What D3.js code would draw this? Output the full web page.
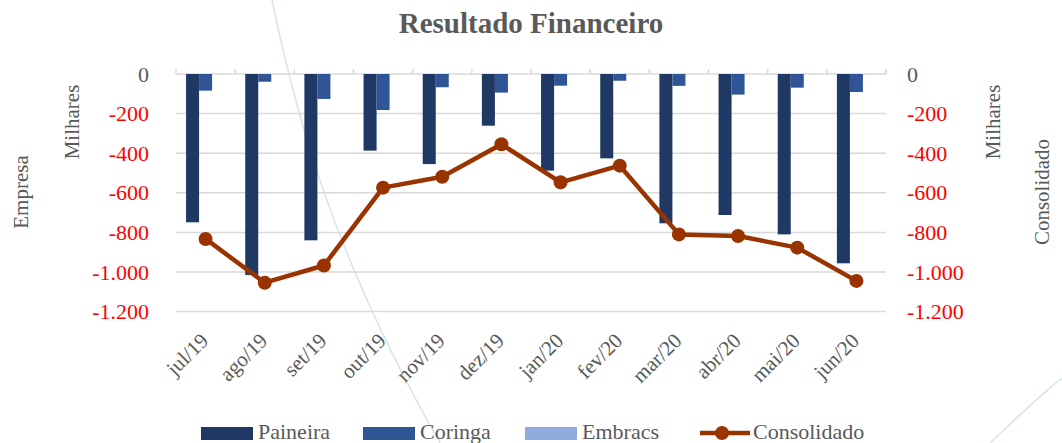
<!DOCTYPE html>
<html>
<head>
<meta charset="utf-8">
<script src="https://cdn.jsdelivr.net/npm/d3@7"></script>
<style>
  html, body { margin: 0; padding: 0; background: #fff; }
  svg { display: block; }
  svg text { font-family: "Liberation Serif", "DejaVu Serif", serif; }
</style>
</head>
<body>
<svg id="chart" width="1062" height="443"></svg>
<script>
  'use strict';

  // data (Milhares)
  var months = ['jul/19', 'ago/19', 'set/19', 'out/19', 'nov/19', 'dez/19',
                'jan/20', 'fev/20', 'mar/20', 'abr/20', 'mai/20', 'jun/20'];
  var paineira = [-749, -1015, -840, -387, -455, -261, -488, -426, -754, -712, -810, -956];
  var coringa = [-84, -39, -126, -182, -67, -94, -59, -34, -60, -104, -69, -91];
  var embracs = [0, 0, 0, 0, 0, 0, 0, 0, 0, 0, 0, 0];
  var consolidado = [-833, -1054, -967, -574, -519, -355, -547, -463, -810, -818, -877, -1045];
  var yTicks = [0, -200, -400, -600, -800, -1000, -1200];

  var barSeries = [
    { name: 'Paineira', values: paineira, color: '#1f3864' },
    { name: 'Coringa', values: coringa, color: '#2f5597' },
    { name: 'Embracs', values: embracs, color: '#8faadc' }
  ];
  var lineColor = '#993300',
      textGray = '#595959',
      serif = '"Liberation Serif", "DejaVu Serif", serif';

  var svg = d3.select('#chart');
  var plotLeft = 176, plotRight = 886, plotTop = 74, plotBottom = 311.6;

  var x = d3.scaleBand().domain(months).range([plotLeft, plotRight]).paddingInner(0.34).paddingOuter(0.17);
  var x0 = d3.scaleBand().domain(months).range([plotLeft, plotRight]);
  var xs = d3.scaleBand().domain(barSeries.map(function (s) { return s.name; }))
    .range([0, x.bandwidth()]);
  var y = d3.scaleLinear().domain([0, -1200]).range([plotTop, plotBottom]);
  var y2 = d3.scaleLinear().domain([0, -1200]).range([plotTop, plotBottom]);

  function fmt(v) {
    return d3.format(',')(v).replace(/,/g, '.').replace('−', '-');
  }

  // faint decorative background curves
  svg.append('path')
    .attr('d', 'M272,0 C295,110 330,250 440,443')
    .attr('fill', 'none').attr('stroke', '#c8dede').attr('stroke-width', 1.5).attr('opacity', 0.8);
  svg.append('path')
    .attr('d', 'M990,443 C1020,415 1040,395 1062,378')
    .attr('fill', 'none').attr('stroke', '#c8dede').attr('stroke-width', 1.5).attr('opacity', 0.8);

  // title
  svg.append('text')
    .attr('x', 531).attr('y', 33)
    .attr('text-anchor', 'middle')
    .attr('font-family', serif)
    .attr('font-size', 29).attr('font-weight', 'bold')
    .attr('fill', textGray)
    .text('Resultado Financeiro');

  // gridlines
  svg.append('g').selectAll('line')
    .data(yTicks)
    .enter().append('line')
      .attr('x1', plotLeft).attr('x2', plotRight)
      .attr('y1', function (d) { return y(d); })
      .attr('y2', function (d) { return y(d); })
      .attr('stroke', '#d9d9d9').attr('stroke-width', 1.5);

  // category tick marks on the zero line
  svg.append('g').selectAll('line')
    .data(months.concat(['end']))
    .enter().append('line')
      .attr('x1', function (d, i) { return plotLeft + i * x0.step(); })
      .attr('x2', function (d, i) { return plotLeft + i * x0.step(); })
      .attr('y1', y(0)).attr('y2', y(0) - 5)
      .attr('stroke', '#d9d9d9').attr('stroke-width', 1.5);

  // bars
  var groups = svg.append('g').selectAll('g')
    .data(barSeries)
    .enter().append('g')
      .attr('fill', function (s) { return s.color; });

  groups.selectAll('rect')
    .data(function (s) { return s.values.map(function (v, i) { return { s: s, v: v, m: months[i] }; }); })
    .enter().append('rect')
      .attr('x', function (d) { return x(d.m) + xs(d.s.name); })
      .attr('width', xs.bandwidth())
      .attr('y', y(0))
      .attr('height', function (d) { return y(d.v) - y(0); });

  // consolidated line
  var line = d3.line()
    .x(function (d, i) { return x0(months[i]) + x0.bandwidth() / 2; })
    .y(function (d) { return y2(d); });

  svg.append('path')
    .datum(consolidado)
    .attr('d', line)
    .attr('fill', 'none')
    .attr('stroke', lineColor)
    .attr('stroke-width', 4.5)
    .attr('stroke-linejoin', 'round');

  svg.append('g').selectAll('circle')
    .data(consolidado)
    .enter().append('circle')
      .attr('cx', function (d, i) { return x0(months[i]) + x0.bandwidth() / 2; })
      .attr('cy', function (d) { return y2(d); })
      .attr('r', 7)
      .attr('fill', lineColor);

  // left axis
  var leftAxis = svg.append('g')
    .attr('transform', 'translate(' + (plotLeft - 27) + ',0)')
    .call(d3.axisLeft(y).tickValues(yTicks).tickFormat(fmt).tickSize(0).tickPadding(0));
  leftAxis.select('.domain').remove();

  // right axis
  var rightAxis = svg.append('g')
    .attr('transform', 'translate(' + (plotRight + 21) + ',0)')
    .call(d3.axisRight(y2).tickValues(yTicks).tickFormat(fmt).tickSize(0).tickPadding(0));
  rightAxis.select('.domain').remove();

  svg.selectAll('.tick text')
    .attr('font-family', serif)
    .attr('font-size', 22)
    .attr('fill', function (d) { return d === 0 ? textGray : '#ff0000'; });
  leftAxis.attr('font-family', serif);
  rightAxis.attr('font-family', serif);

  // x labels
  svg.append('g').selectAll('text')
    .data(months)
    .enter().append('text')
      .attr('transform', function (d) {
        return 'translate(' + (x0(d) + x0.bandwidth() / 2 + 4) + ',342) rotate(-45)';
      })
      .attr('text-anchor', 'end')
      .attr('font-family', serif)
      .attr('font-size', 21)
      .attr('fill', textGray)
      .text(function (d) { return d; });

  // axis titles
  function vTitle(txt, cx, cy) {
    svg.append('text')
      .attr('transform', 'translate(' + cx + ',' + cy + ') rotate(-90)')
      .attr('text-anchor', 'middle')
      .attr('font-family', serif)
      .attr('font-size', 21)
      .attr('fill', textGray)
      .text(txt);
  }
  vTitle('Milhares', 79, 122);
  vTitle('Empresa', 28, 192);
  vTitle('Milhares', 1000, 122);
  vTitle('Consolidado', 1049, 192);

  // legend
  var legend = svg.append('g');
  var legendX = [201, 363, 525];
  barSeries.forEach(function (s, i) {
    legend.append('rect')
      .attr('x', legendX[i]).attr('y', 427)
      .attr('width', 52).attr('height', 13)
      .attr('fill', s.color);
    legend.append('text')
      .attr('x', legendX[i] + 57).attr('y', 439)
      .attr('font-family', serif)
      .attr('font-size', 22).attr('fill', textGray)
      .text(s.name);
  });
  legend.append('line')
    .attr('x1', 700).attr('x2', 750).attr('y1', 433).attr('y2', 433)
    .attr('stroke', lineColor).attr('stroke-width', 4.5);
  legend.append('circle')
    .attr('cx', 722).attr('cy', 433).attr('r', 7).attr('fill', lineColor);
  legend.append('text')
    .attr('x', 753).attr('y', 439)
    .attr('font-family', serif)
    .attr('font-size', 22).attr('fill', textGray)
    .text('Consolidado');
</script>
</body>
</html>
